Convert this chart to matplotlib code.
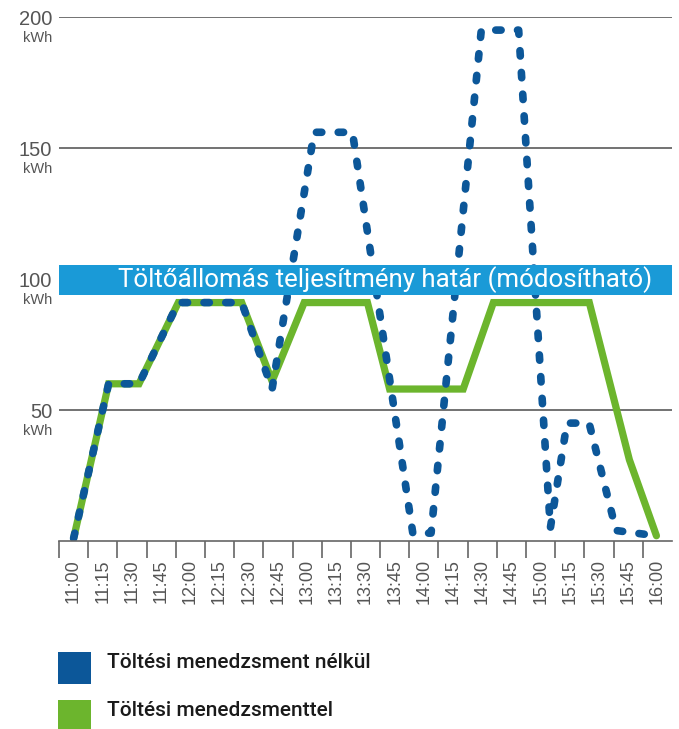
import matplotlib
matplotlib.use("Agg")
import matplotlib.pyplot as plt
from matplotlib.patches import Rectangle
import matplotlib.transforms as mtransforms

# time axis labels (every 15 minutes)
time_labels = ["11:00", "11:15", "11:30", "11:45", "12:00", "12:15", "12:30",
               "12:45", "13:00", "13:15", "13:30", "13:45", "14:00", "14:15",
               "14:30", "14:45", "15:00", "15:15", "15:30", "15:45", "16:00"]

# curve without charging management (minutes after 11:00, kWh)
blue_min = [0, 18, 33.6, 53.8, 86.4, 102, 123.6, 143.3, 174.3, 183.7,
            209.5, 228.7, 245, 253.5, 264.9, 278.8, 289, 299.5]
blue_kwh = [1, 60, 60, 91, 91, 58, 156, 156, 3, 3,
            195, 195, 5, 45, 45, 4, 3, 2]

# curve with charging management
green_min = [0, 18, 33.6, 53.8, 86.4, 102, 118.5, 151, 162.4, 200.2,
             215.7, 265, 285.6, 299.5]
green_kwh = [1, 60, 60, 91, 91, 61, 91, 91, 58, 58,
             91, 91, 31, 2]

y_ticks = [50, 100, 150, 200]
limit_low, limit_high = 94, 105.3
limit_text = "Töltőállomás teljesítmény határ (módosítható)"
legend_labels = ["Töltési menedzsment nélkül", "Töltési menedzsmenttel"]

BLUE = "#0c5799"
GREEN = "#6cb52d"
BAND = "#1a9ad7"
GREY = "#555555"

fig = plt.figure(figsize=(6.79, 7.29), dpi=100)
ax = fig.add_axes([59 / 679, 1 - 541 / 729, 613 / 679, 524 / 729])

centers = [15 * i for i in range(len(time_labels))]
bounds = [15 * i - 7.5 for i in range(len(time_labels))]

ax.set_xlim(-7.5, 307.5)
ax.set_ylim(0, 200)

for v in y_ticks:
    ax.axhline(v, color="#5a5a5a", lw=1.2, zorder=1)

ax.plot(green_min, green_kwh, color=GREEN, lw=5.2, solid_joinstyle="miter",
        solid_capstyle="round", zorder=2)
ax.plot(blue_min, blue_kwh, color=BLUE, lw=5.5, dashes=(0.7, 2.15),
        dash_capstyle="round", dash_joinstyle="round", zorder=2.5)

ax.axhspan(limit_low, limit_high, color=BAND, lw=0, zorder=3)
ax.text(0.532, (limit_low + limit_high) / 2, limit_text, color="white",
        fontsize=18.6, family="Roboto", ha="center", va="center",
        transform=mtransforms.blended_transform_factory(ax.transAxes, ax.transData),
        zorder=4)

for s in ["top", "right", "left"]:
    ax.spines[s].set_visible(False)
ax.spines["bottom"].set_color("#666666")
ax.spines["bottom"].set_linewidth(1.2)

ax.set_yticks([])
ax.set_xticks(centers)
ax.set_xticklabels(time_labels, rotation=90, color=GREY, fontsize=13,
                   family="Liberation Sans")
ax.tick_params(axis="x", which="major", length=0, pad=13)
ax.set_xticks(bounds, minor=True)
ax.tick_params(axis="x", which="minor", length=12, width=1.2, color="#666666",
               direction="out")

ytr = mtransforms.blended_transform_factory(ax.transAxes, ax.transData)
for v in y_ticks:
    ax.text(-0.011, v - 1, str(v), ha="right", va="center", fontsize=14.5,
            color=GREY, family="Liberation Sans", transform=ytr)
    ax.text(-0.011, v - 8, "kWh", ha="right", va="center", fontsize=10.5,
            color=GREY, family="Liberation Sans", transform=ytr)

# legend
for i, (lab, col) in enumerate(zip(legend_labels, [BLUE, GREEN])):
    top = 652 + i * 48
    fig.patches.append(Rectangle((58 / 679, 1 - (top + 32) / 729), 33 / 679, 32 / 729,
                                 transform=fig.transFigure, color=col, lw=0))
    fig.text(107 / 679, 1 - (top + 11) / 729, lab, fontsize=15, family="Roboto",
             fontweight="medium", color="#1a1a1a", ha="left", va="center")

fig.savefig("out.png", dpi=100)
